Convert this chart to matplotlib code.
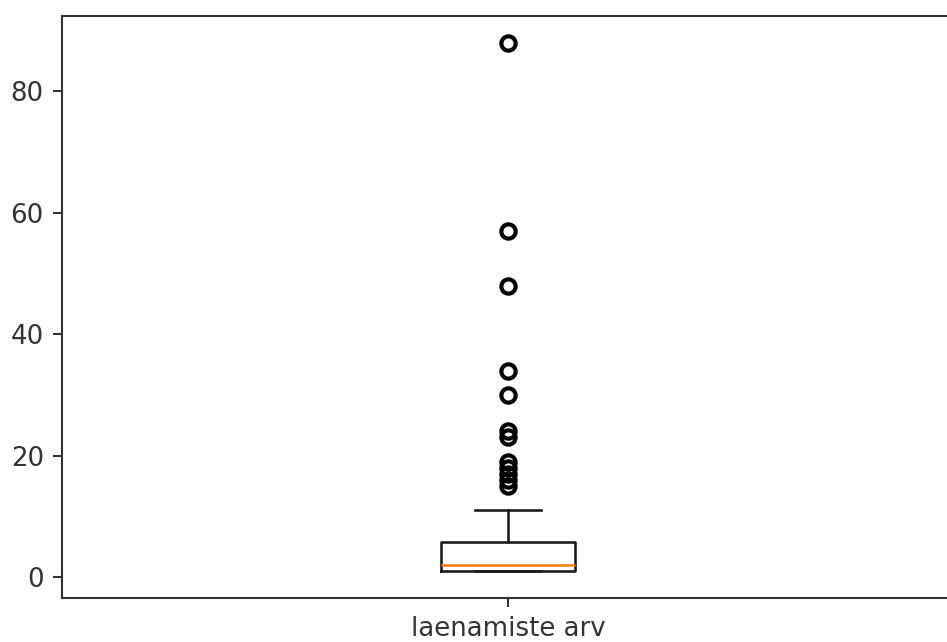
import matplotlib
matplotlib.use('Agg')
from matplotlib import pyplot as plt

# box statistics
label = 'laenamiste arv'
q1, med, q3 = 1, 2, 5.75
whislo, whishi = 1, 11
fliers = [15, 16, 17, 18, 19, 23, 24, 30, 34, 48, 57, 88]

s = 1.87  # scale from original 72 dpi points
plt.rcParams['font.size'] = 10 * s

fig = plt.figure(figsize=(9.47, 6.42), dpi=100)
ax = fig.add_axes([62 / 947, 44 / 642, 892 / 947, 582 / 642])

stats = [dict(label=label, q1=q1, med=med, q3=q3, whislo=whislo,
              whishi=whishi, fliers=fliers)]
ax.bxp(stats, showfliers=True,
       boxprops=dict(linewidth=1.0 * s, color='#1a1a1a'),
       whiskerprops=dict(linewidth=1.0 * s, color='#1a1a1a'),
       capprops=dict(linewidth=1.0 * s, color='#1a1a1a'),
       medianprops=dict(linewidth=1.0 * s, color='#ff7f0e'),
       flierprops=dict(marker='o', markersize=5.5 * s, markeredgewidth=1.6 * s,
                       markerfacecolor='none', markeredgecolor='black'))

for sp in ax.spines.values():
    sp.set_linewidth(0.8 * s)
    sp.set_color('#333333')
ax.tick_params(length=3.5 * s, width=0.8 * s, pad=3.5 * s, colors='#333333')
ax.set_ylim(-3.45, 92.4)
ax.set_xlim(0.5, 1.5)

fig.savefig('out.png', dpi=100)
